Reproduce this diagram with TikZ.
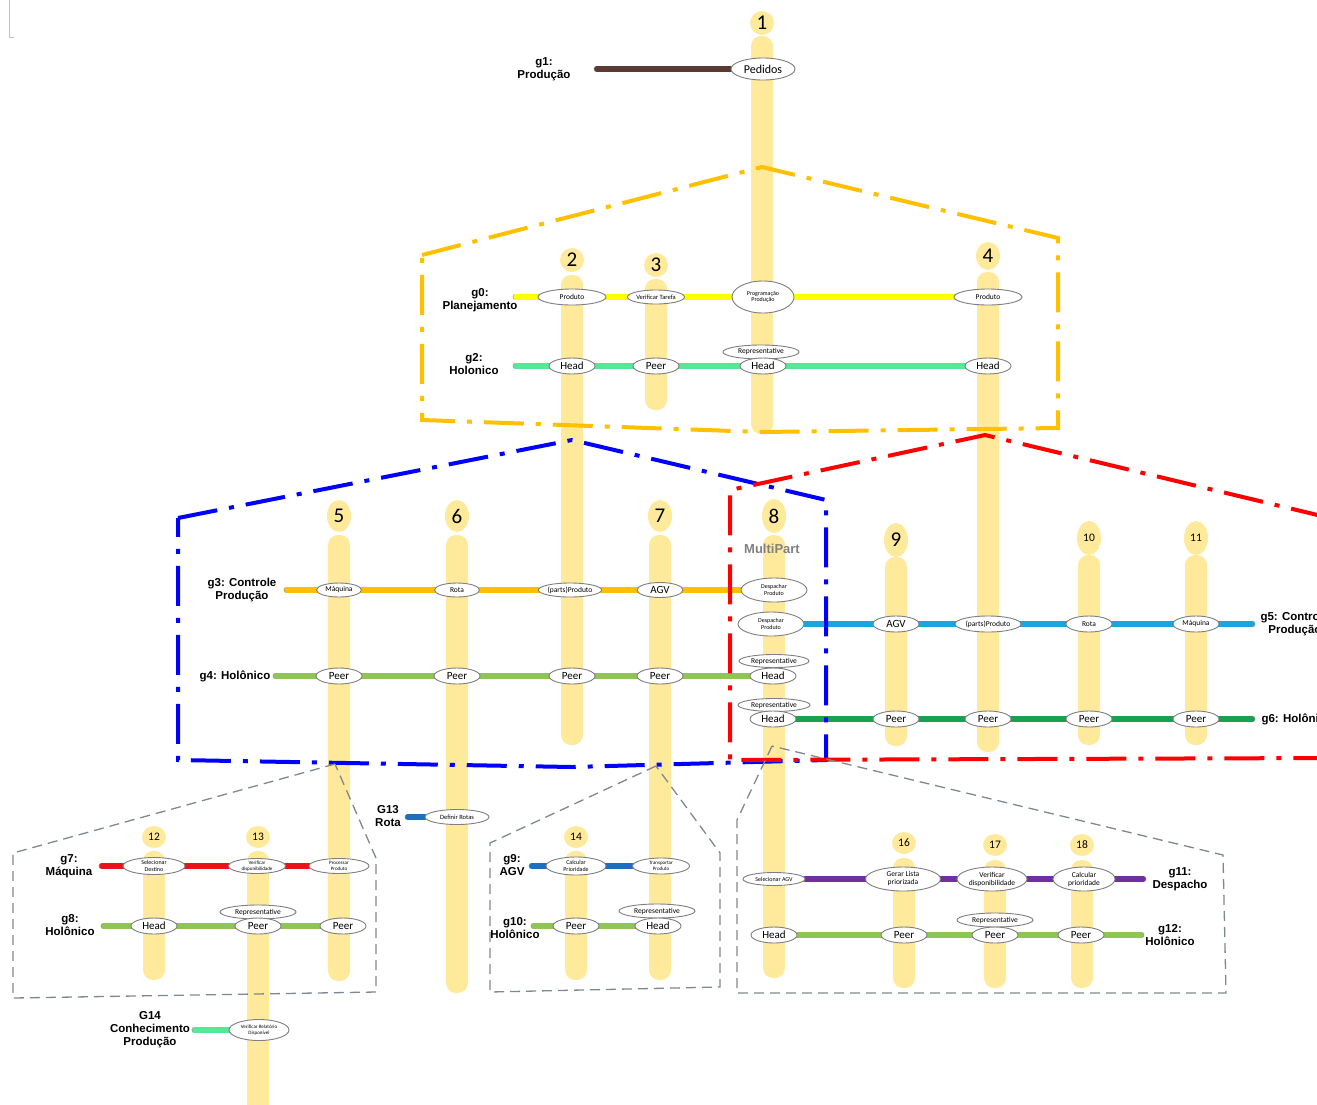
\documentclass[tikz,border=0pt]{standalone}
\usepackage{fontspec}
\setmainfont{Carlito}
\newfontfamily\lblfont{Liberation Sans}
\usepackage{xcolor}
\usetikzlibrary{shapes.geometric}
\definecolor{LaneYellow}{HTML}{FFE99B}
\definecolor{EntGray}{HTML}{7F7F7F}
\definecolor{LineGray}{HTML}{9A9A9A}
\definecolor{ZoomGray}{HTML}{7F8890}
\definecolor{MultiGray}{HTML}{808080}
\definecolor{G1Brown}{HTML}{5A3A33}
\definecolor{G0Yellow}{HTML}{FFFF00}
\definecolor{G2Mint}{HTML}{55E895}
\definecolor{G3Orange}{HTML}{FFBF00}
\definecolor{HoloGreen}{HTML}{8FC552}
\definecolor{G5Blue}{HTML}{19A6DE}
\definecolor{G6Green}{HTML}{1AA150}
\definecolor{G7Red}{HTML}{E8141B}
\definecolor{G9Blue}{HTML}{1E6EBE}
\definecolor{G11Purple}{HTML}{7030A0}
\definecolor{BOrange}{HTML}{FFC000}
\definecolor{BBlue}{HTML}{0000FF}
\definecolor{BRed}{HTML}{FF0000}

\pgfdeclarelayer{lanes}
\pgfdeclarelayer{lines}
\pgfsetlayers{lanes,lines,main}

\begin{document}
\begin{tikzpicture}[
  x=1pt, y=-1pt,
  lane/.style={fill=LaneYellow, rounded corners=10pt},
  num/.style={ellipse, fill=LaneYellow, inner sep=0pt, minimum width=24pt, minimum height=24pt, font=\fontsize{21}{21}\selectfont},
  numsmall/.style={num, minimum height=22pt, font=\fontsize{11.5}{11.5}\selectfont},
  ent/.style={ellipse, draw=EntGray, fill=white, line width=0.9pt, inner sep=0pt, align=center},
  role/.style={ent, minimum width=46pt, minimum height=16pt, font=\fontsize{11}{11}\selectfont},
  goal/.style={ent, minimum width=68pt, minimum height=16pt, font=\fontsize{7.5}{8}\selectfont},
  task/.style={ent, minimum width=62pt, minimum height=22pt, font=\fontsize{6}{6.5}\selectfont},
  rep/.style={ent, minimum width=76pt, minimum height=14pt, font=\fontsize{7.5}{7.5}\selectfont},
  grp/.style={font=\lblfont\bfseries\fontsize{11.5}{13}\selectfont, align=center},
  gline/.style={draw=LineGray, line width=0.7pt, double=#1, double distance=5.5pt, line cap=round},
  border/.style={draw=#1, line width=4pt, dash pattern=on 40pt off 12pt on 5pt off 12pt},
  zoomline/.style={draw=ZoomGray, line width=1.3pt, dash pattern=on 10pt off 6pt}
]
\useasboundingbox (0,0) rectangle (1317,1104);
\clip (0,0) rectangle (1317,1104);
\draw[gray!50, line width=0.6pt] (9,0) -- (9,37) -- (14,37);

% agent lanes
\begin{pgfonlayer}{lanes}
\fill[lane] (751,36) rectangle (773,434);
\fill[lane] (561,275) rectangle (583,745);
\fill[lane] (645,279) rectangle (667,410);
\fill[lane] (977,272) rectangle (999,752);
\fill[lane] (328,535) rectangle (350,981);
\fill[lane] (446,535) rectangle (468,993);
\fill[lane] (649,535) rectangle (671,980);
\fill[lane] (763,535) rectangle (785,978);
\fill[lane] (885,557) rectangle (907,746);
\fill[lane] (1078,555) rectangle (1100,745);
\fill[lane] (1185,555) rectangle (1207,745);
\fill[lane] (143,851) rectangle (165,980);
\fill[lane] (247,851) rectangle (269,1120);
\fill[lane] (565,851) rectangle (587,980);
\fill[lane] (893,858) rectangle (915,988);
\fill[lane] (984,860) rectangle (1006,988);
\fill[lane] (1071,860) rectangle (1093,988);
\node[num] (n1) at (762,23) {1};
\node[num] (n2) at (572,260) {2};
\node[num] (n3) at (656,265) {3};
\node[num, minimum height=28pt] (n4) at (988,256) {4};
\node[num, minimum height=32pt] (n5) at (339,516) {5};
\node[num, minimum height=32pt] (n6) at (457,516) {6};
\node[num, minimum height=32pt] (n7) at (660,516) {7};
\node[num, minimum height=34pt] (n8) at (774,516) {8};
\node[num, minimum height=34pt] (n9) at (896,540) {9};
\node[numsmall, minimum height=34pt] (n10) at (1089,538) {10};
\node[numsmall, minimum height=34pt] (n11) at (1196,538) {11};
\node[numsmall] (n12) at (154,837) {12};
\node[numsmall] (n13) at (258,837) {13};
\node[numsmall] (n14) at (576,837) {14};
\node[numsmall] (n16) at (904,843) {16};
\node[numsmall] (n17) at (995,845) {17};
\node[numsmall] (n18) at (1082,845) {18};
\end{pgfonlayer}

\node[font=\lblfont\bfseries\fontsize{13}{13}\selectfont, text=MultiGray] (multi) at (772,549) {MultiPart};

% g1
\node[grp] (g1) at (544,69) {g1:\\Produção};
\coordinate (g1w) at (597,69);
\node[role, minimum width=64pt, minimum height=22pt, font=\fontsize{12}{12}\selectfont] (pedidos) at (763,69) {Pedidos};

% g0
\node[grp] (g0) at (480,300) {g0:\\Planejamento};
\coordinate (g0w) at (516,297);
\node[goal] (prodA) at (572,297) {Produto};
\node[goal, minimum width=57pt, minimum height=14pt, font=\fontsize{6.5}{7}\selectfont] (verTarefa) at (656,297) {Verificar Tarefa};
\node[task, minimum height=32pt] (progProd) at (763,297) {Programação\\Produção};
\node[goal] (prodB) at (988,297) {Produto};

% g2
\node[grp] (g2) at (474,364) {g2:\\Holonico};
\coordinate (g2w) at (516,366);
\node[role] (headA) at (572,366) {Head};
\node[role] (peerA) at (656,366) {Peer};
\node[rep] (repA) at (761,352) {Representative};
\node[role] (headB) at (763,366) {Head};
\node[role] (headC) at (988,366) {Head};

% g3
\node[grp] (g3) at (242,590) {g3: Controle\\Produção};
\coordinate (g3w) at (287,590);
\node[goal, minimum width=45pt, minimum height=14pt] (maqA) at (339,590) {Máquina};
\node[goal, minimum width=45pt, minimum height=14pt] (rotaA) at (457,590) {Rota};
\node[goal, minimum width=62pt, minimum height=14pt] (partsA) at (570,590) {(parts)Produto};
\node[role, minimum height=15pt] (agvA) at (660,590) {AGV};
\node[task, minimum width=66pt, minimum height=24pt] (despA) at (774,590) {Despachar\\Produto};

% g4
\node[grp] (g4) at (235,676) {g4: Holônico};
\coordinate (g4w) at (276,676);
\node[role] (peer5) at (339,676) {Peer};
\node[role] (peer6) at (457,676) {Peer};
\node[role] (peer2) at (572,676) {Peer};
\node[role] (peer7) at (660,676) {Peer};
\node[rep, minimum width=70pt, minimum height=13pt] (repB) at (774,661) {Representative};
\node[role] (headD) at (773,676) {Head};

% g5
\node[grp, anchor=west] (g5) at (1257,624) {g5: Controle\\Produção};
\coordinate (g5e) at (1252,624);
\node[task, minimum width=66pt, minimum height=24pt] (despB) at (771,624) {Despachar\\Produto};
\node[role] (agvB) at (896,624) {AGV};
\node[goal, minimum width=66pt] (partsB) at (988,624) {(parts)Produto};
\node[goal, minimum width=46pt] (rotaB) at (1089,624) {Rota};
\node[goal, minimum width=46pt] (maqB) at (1196,624) {Máquina};

% g6
\node[grp, anchor=west] (g6) at (1258,719) {g6: Holônico};
\coordinate (g6e) at (1252,719);
\node[rep, minimum width=72pt, minimum height=13pt] (repC) at (774,705) {Representative};
\node[role] (headE) at (773,719) {Head};
\node[role] (peer9) at (896,719) {Peer};
\node[role] (peer4) at (988,719) {Peer};
\node[role] (peer10) at (1089,719) {Peer};
\node[role] (peer11) at (1196,719) {Peer};

% g7
\node[grp] (g7) at (69,866) {g7:\\Máquina};
\coordinate (g7w) at (102,866);
\node[task, minimum height=17pt] (selDest) at (154,866) {Selecionar\\Destino};
\node[task, minimum width=57pt, minimum height=15pt, font=\fontsize{5}{5.5}\selectfont] (verDispA) at (257,866) {Verificar\\disponibilidade};
\node[task, minimum width=60pt, minimum height=15pt, font=\fontsize{5}{5.5}\selectfont] (procProd) at (339,866) {Processar\\Produto};

% g8
\node[grp] (g8) at (70,925) {g8:\\Holônico};
\coordinate (g8w) at (104,926);
\node[role] (head12) at (154,926) {Head};
\node[rep] (repD) at (258,912) {Representative};
\node[role] (peer13) at (258,926) {Peer};
\node[role] (peer5b) at (343,926) {Peer};

% G13
\node[grp] (g13) at (388,816) {G13\\Rota};
\coordinate (g13w) at (408,817);
\node[goal, minimum width=64pt, minimum height=15pt, font=\fontsize{6.5}{7}\selectfont] (defRotas) at (457,817) {Definir Rotas};

% G14
\node[grp] (g14) at (150,1030) {G14\\Conhecimento\\Produção};
\coordinate (g14w) at (195,1030);
\node[task, minimum width=60pt, minimum height=21pt, font=\fontsize{5}{5.5}\selectfont] (verRel) at (259,1030) {Verificar Relatório\\Disponível};

% g9
\node[grp] (g9) at (512,865) {g9:\\AGV};
\coordinate (g9w) at (532,866);
\node[task, minimum width=60pt, minimum height=18pt] (calcPrioA) at (576,866) {Calcular\\Prioridade};
\node[task, minimum width=57pt, minimum height=16pt, font=\fontsize{5}{5.5}\selectfont] (transp) at (661,866) {Transportar\\Produto};

% g10
\node[grp] (g10) at (515,928) {g10:\\Holônico};
\coordinate (g10w) at (534,926);
\node[role] (peer14) at (576,926) {Peer};
\node[rep] (repE) at (657,911) {Representative};
\node[role] (head7) at (658,926) {Head};

% g11
\node[grp] (g11) at (1180,879) {g11:\\Despacho};
\coordinate (g11e) at (1143,879);
\node[goal, minimum width=62pt, minimum height=13pt, font=\fontsize{6}{6}\selectfont] (selAgv) at (774,879) {Selecionar AGV};
\node[task, minimum width=75pt, minimum height=24pt, font=\fontsize{7.5}{8}\selectfont] (gerLista) at (903,879) {Gerar Lista\\priorizada};
\node[task, minimum width=70pt, minimum height=24pt, font=\fontsize{7.5}{8}\selectfont] (verDispB) at (992,879) {Verificar\\disponibilidade};
\node[task, minimum width=62pt, minimum height=24pt, font=\fontsize{7.5}{8}\selectfont] (calcPrioB) at (1084,879) {Calcular\\prioridade};

% g12
\node[grp] (g12) at (1170,935) {g12:\\Holônico};
\coordinate (g12e) at (1141,935);
\node[role] (head8) at (774,935) {Head};
\node[role] (peer16) at (904,935) {Peer};
\node[rep] (repF) at (995,920) {Representative};
\node[role] (peer17) at (995,935) {Peer};
\node[role] (peer18) at (1081,935) {Peer};

% group lines
\begin{pgfonlayer}{lines}
\draw[gline=G1Brown] (g1w) -- (pedidos);
\draw[gline=G0Yellow] (g0w) -- (prodA) -- (verTarefa) -- (progProd) -- (prodB);
\draw[gline=G2Mint] (g2w) -- (headA) -- (peerA) -- (headB) -- (headC);
\draw[gline=G3Orange] (g3w) -- (maqA) -- (rotaA) -- (partsA) -- (agvA) -- (despA);
\draw[gline=HoloGreen] (g4w) -- (peer5) -- (peer6) -- (peer2) -- (peer7) -- (headD);
\draw[gline=G5Blue] (despB) -- (agvB) -- (partsB) -- (rotaB) -- (maqB) -- (g5e);
\draw[gline=G6Green] (headE) -- (peer9) -- (peer4) -- (peer10) -- (peer11) -- (g6e);
\draw[gline=G7Red] (g7w) -- (selDest) -- (verDispA) -- (procProd);
\draw[gline=HoloGreen] (g8w) -- (head12) -- (peer13) -- (peer5b);
\draw[gline=G9Blue] (g13w) -- (defRotas);
\draw[gline=G2Mint] (g14w) -- (verRel);
\draw[gline=G9Blue] (g9w) -- (calcPrioA) -- (transp);
\draw[gline=HoloGreen] (g10w) -- (peer14) -- (head7);
\draw[gline=G11Purple] (selAgv) -- (gerLista) -- (verDispB) -- (calcPrioB) -- (g11e);
\draw[gline=HoloGreen] (head8) -- (peer16) -- (peer17) -- (peer18) -- (g12e);
\end{pgfonlayer}

% holon borders
\draw[border=BOrange] (422,255) -- (762,167) -- (1058,238) -- (1058,428) -- (762,432) -- (422,420) -- cycle;
\draw[border=BBlue] (178,518) -- (572,440) -- (826,500) -- (826,760) -- (572,767) -- (178,760) -- cycle;
\draw[border=BRed] (1330,518) -- (985,435) -- (730,490) -- (730,760) -- (1330,758);

% zoom-in boxes
\draw[zoomline] (335,764) -- (13,853) -- (13,998) -- (376,992) -- (376,858) -- cycle;
\draw[zoomline] (656,766) -- (490,843) -- (490,992) -- (720,987) -- (720,853) -- cycle;
\draw[zoomline] (772,746) -- (737,820) -- (737,993) -- (1226,993) -- (1223,855) -- cycle;
\end{tikzpicture}
\end{document}
